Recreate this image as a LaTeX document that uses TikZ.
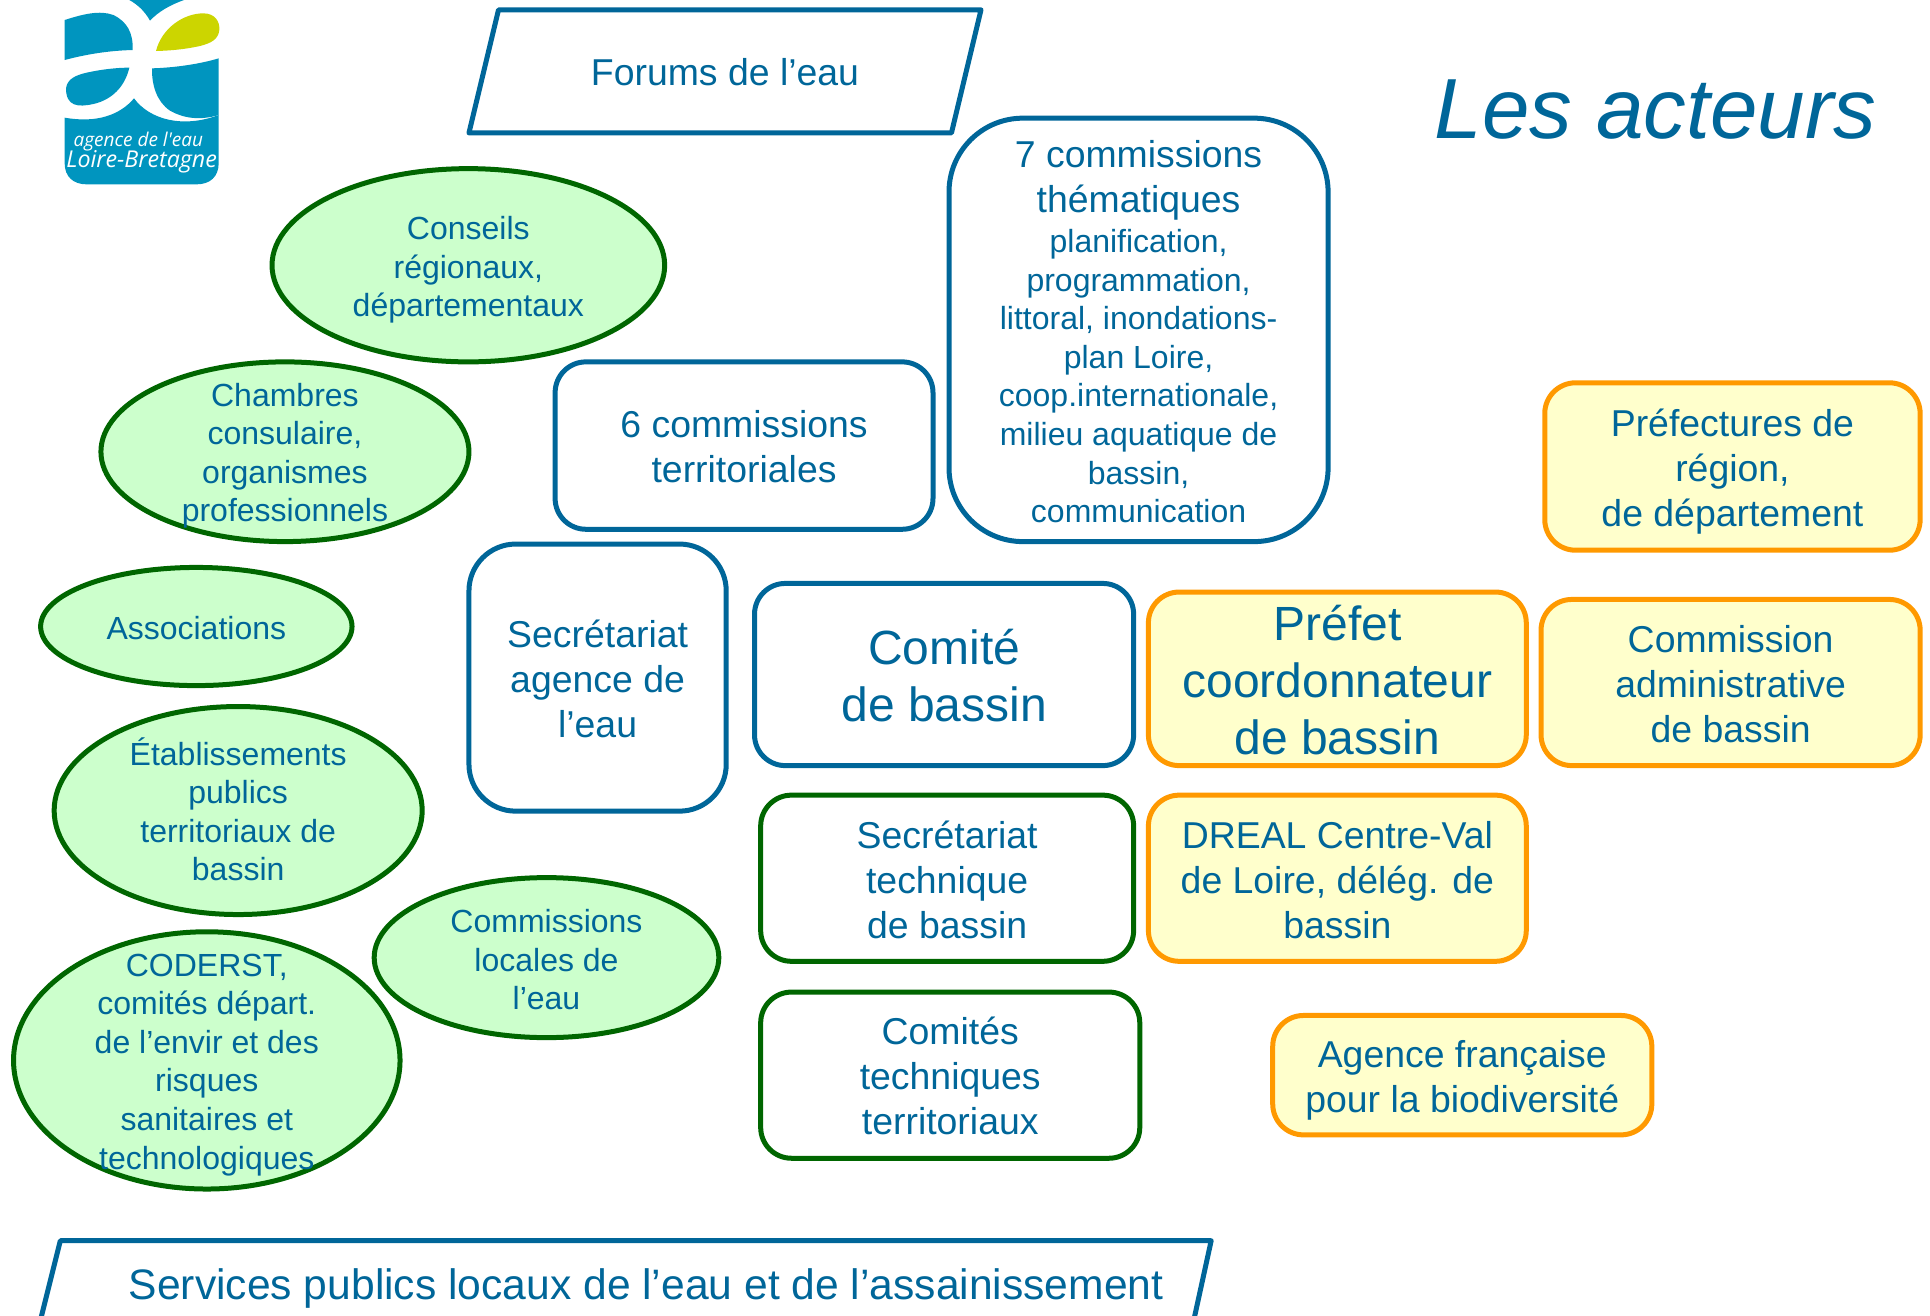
\documentclass[tikz,border=0pt]{standalone}
\usepackage{fontspec}
\setmainfont{Liberation Sans}
\newfontfamily\logofont{Open Sans}
\usetikzlibrary{shapes.geometric}
\definecolor{tblue}{HTML}{006699}
\definecolor{tgreen}{HTML}{006600}
\definecolor{torange}{HTML}{FF9900}
\definecolor{fgreen}{HTML}{CCFFCC}
\definecolor{fyellow}{HTML}{FFFFCC}
\definecolor{lblue}{HTML}{0095BF}
\definecolor{llime}{HTML}{CCD500}
\newcommand\pu{0.61545pt}
\newcommand\bodyf{\fontsize{18.7}{22.5}\selectfont}
\newcommand\smf{\fontsize{16}{19.3}\selectfont}
\newcommand\bigf{\fontsize{24}{28.6}\selectfont}
\newcommand\tp{\rule{0pt}{15pt}}
\newcommand\tpb{\rule{0pt}{19pt}}
\tikzset{
  sz/.style 2 args={minimum width=#1*\pu,minimum height=#2*\pu},
  basebox/.style={rectangle,rounded corners=25*\pu,line width=2.5pt,inner sep=0pt,align=center,text=tblue,font=\bodyf},
  bluebox/.style={basebox,draw=tblue},
  greenbox/.style={basebox,draw=tgreen},
  orangebox/.style={basebox,draw=torange,fill=fyellow},
  ell/.style={ellipse,draw=tgreen,fill=fgreen,line width=2.5pt,inner sep=0pt},
  elltext/.style={align=center,text=tblue,font=\smf,inner sep=0pt},
  para/.style={draw=tblue,line width=2.5pt,line join=round}
}
\begin{document}
\begin{tikzpicture}[x=0.61545pt,y=-0.61545pt]
\useasboundingbox (0,0) rectangle (1568,1068.4);
% logo
\begin{scope}[shift={(32.5,0)},x=0.16667pt,y=-0.16667pt]
\fill[lblue] (74,60) .. controls (130,42) and (180,30) .. (220,45) .. controls (262,65) and (280,100) .. (278,150) .. controls (200,152) and (130,165) .. (74,180) -- cycle;
\fill[lblue] (78,265) .. controls (82,235) and (110,225) .. (140,218) .. controls (185,208) and (230,203) .. (268,203) .. controls (255,260) and (215,300) .. (160,312) .. controls (115,322) and (78,320) .. (78,265) -- cycle;
\fill[lblue] (268,0) -- (432,0) .. controls (390,15) and (355,35) .. (330,62) .. controls (315,35) and (295,15) .. (268,0) -- cycle;
\fill[llime] (348,153) .. controls (365,85) and (430,40) .. (490,40) .. controls (525,40) and (540,65) .. (538,90) .. controls (535,120) and (510,130) .. (480,138) .. controls (435,148) and (390,152) .. (348,153) -- cycle;
\fill[lblue] (336,205) .. controls (405,203) and (480,192) .. (536,175) -- (536,345) .. controls (480,362) and (430,355) .. (390,332) .. controls (350,305) and (335,255) .. (336,205) -- cycle;
\fill[lblue] (74,353) .. controls (170,370) and (240,345) .. (282,295) .. controls (330,360) and (430,385) .. (536,345) -- (536,490) .. controls (536,530) and (510,553) .. (470,553) -- (140,553) .. controls (100,553) and (74,530) .. (74,490) -- cycle;
\node[text=white,inner sep=0pt,font=\logofont\itshape\fontsize{9.5}{11}\selectfont] (logoa) at (295,426) {agence de l'eau};
\node[text=white,inner sep=0pt,font=\logofont\itshape\fontsize{11.6}{13}\selectfont] (logob) at (305,485) {Loire-Bretagne};
\end{scope}
% parallelograms
\draw[para] (405,8) -- (797,8) -- (773,108) -- (381,108) -- cycle;
\node[text=tblue,font=\bodyf,inner sep=0pt] (forums) at (589,59) {Forums de l’eau};
\draw[para] (49,1008) -- (984,1008) -- (970,1072) -- (33,1072) -- cycle;
\node[text=tblue,font=\fontsize{21.3}{24}\selectfont,inner sep=0pt] (services) at (525,1047) {Services publics locaux de l’eau et de l’assainissement};
% title
\node[text=tblue,font=\itshape\fontsize{42.7}{50}\selectfont,inner sep=0pt] (title) at (1345,89) {Les acteurs};
% ellipses
\node[ell,sz={319}{157},label={[elltext,yshift=-2.3pt]center:Conseils\\régionaux,\\départementaux}] (conseils) at (380.5,215.5) {};
\node[ell,sz={299}{146},label={[elltext,yshift=-2pt]center:Chambres\\consulaire,\\organismes\\professionnels}] (chambres) at (231.5,367) {};
\node[ell,sz={253}{96},label={[elltext,yshift=-1pt]center:Associations}] (assoc) at (159.5,509) {};
\node[ell,sz={299}{169},label={[elltext,yshift=0.6pt]center:Établissements\\publics\\territoriaux de\\bassin}] (etab) at (193.5,658.5) {};
\node[ell,sz={314}{209},label={[elltext,yshift=-2.2pt]center:CODERST,\\comités départ.\\de l’envir et des\\risques\\sanitaires et\\technologiques}] (coderst) at (168,861.5) {};
\node[ell,sz={280}{130},label={[elltext,yshift=-1pt]center:Commissions\\locales de\\l’eau}] (cle) at (444,778) {};
% blue boxes
\node[bluebox,sz={307}{136}] (terr) at (604.5,362) {\tp 6 commissions\\territoriales};
\node[bluebox,sz={308}{344},rounded corners=60*\pu,font=\smf] (them) at (925,268) {{\bodyf\rule{0pt}{15.5pt}7 commissions}\\[3.1pt]{\bodyf thématiques}\\[0.6pt]planification,\\programmation,\\littoral, inondations-\\plan Loire,\\coop.internationale,\\milieu aquatique de\\bassin,\\communication};
\node[bluebox,sz={209}{217},rounded corners=38*\pu] (secag) at (485.5,550.5) {\tp Secrétariat\\agence de\\l’eau};
\node[bluebox,sz={308}{148},font=\bigf] (comite) at (767,548) {\tpb Comité\\de bassin};
% green boxes
\node[greenbox,sz={303}{135}] (sectech) at (769.5,713.5) {\tp Secrétariat\\technique\\de bassin};
\node[greenbox,sz={308}{135}] (comtech) at (772,873.5) {\tp Comités\\techniques\\territoriaux};
% orange boxes
\node[orangebox,sz={307}{141},font=\bigf] (prefet) at (1086.5,551.5) {\tpb Préfet\\coordonnateur\\de bassin};
\node[orangebox,sz={308}{135}] (cab) at (1406,554.5) {\tp Commission\\administrative\\de bassin};
\node[orangebox,sz={305}{136}] (prefect) at (1407.5,379) {\rule{0pt}{19pt}Préfectures de\\région,\\de département};
\node[orangebox,sz={307}{135}] (dreal) at (1086.5,713.5) {\tp DREAL Centre-Val\\de Loire, délég. de\\bassin};
\node[orangebox,sz={308}{97}] (afb) at (1188,873.5) {\rule{0pt}{19pt}Agence française\\pour la biodiversité};
\end{tikzpicture}
\end{document}
